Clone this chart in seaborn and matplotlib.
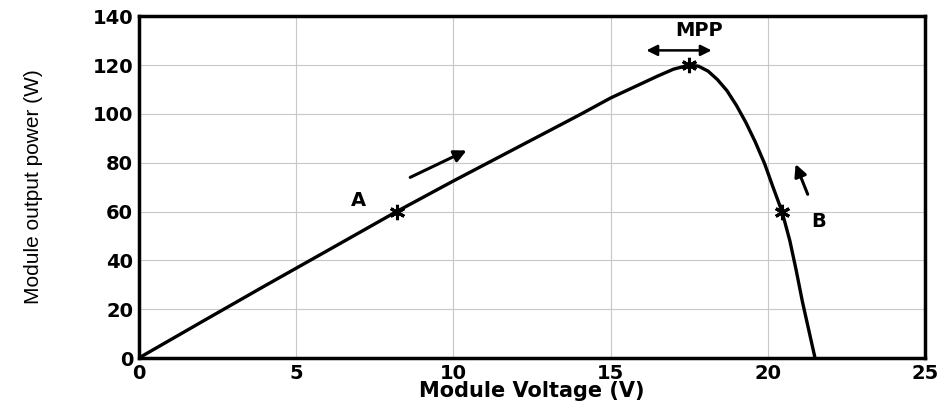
import matplotlib
matplotlib.use("Agg")
import matplotlib.pyplot as plt
import seaborn as sns
import pandas as pd

# P-V characteristic of the PV module
voltage = [0, 2, 4, 6, 8.2, 10, 12, 14, 15, 16, 16.5, 17, 17.5, 17.8, 18.1, 18.4, 18.7,
           19.0, 19.3, 19.6, 19.9, 20.15, 20.45, 20.7, 20.9, 21.1, 21.3, 21.5]
power = [0, 14.8, 29.5, 44, 60, 72.5, 86, 99.5, 106.5, 112.5, 115.5, 118.3, 120, 119.5, 117.5, 114, 109.5,
         103.5, 96.5, 88.5, 79.5, 70.5, 60, 48, 36, 23, 11.5, 0]

# operating points marked on the curve
point_names = ["A", "MPP", "B"]
point_v = [8.2, 17.5, 20.45]
point_p = [60, 120, 60]

x_ticks = [0, 5, 10, 15, 20, 25]
y_ticks = [0, 20, 40, 60, 80, 100, 120, 140]

sns.set_theme(style="whitegrid")
plt.rcParams["font.family"] = ["DejaVu Sans"]
plt.rcParams["text.color"] = "black"

fig = plt.figure(figsize=(9.44, 4.05), dpi=100)
ax = fig.add_axes([0.147, 0.116, 0.833, 0.844])

df = pd.DataFrame({"V": voltage, "P": power})
sns.lineplot(data=df, x="V", y="P", ax=ax, color="black", linewidth=2.4, sort=False)
ax.plot(point_v, point_p, linestyle="none", marker=(6, 2, 0), markersize=11,
        markeredgewidth=2.2, color="black")

ax.set_xlim(0, 25)
ax.set_ylim(0, 140)
ax.set_xticks(x_ticks)
ax.set_yticks(y_ticks)
ax.grid(True, color="#c8c8c8", linewidth=0.8)
ax.set_facecolor("white")
for s in ax.spines.values():
    s.set_color("black")
    s.set_linewidth(2.5)
ax.tick_params(direction="in", length=4, width=1, colors="black", pad=4)
for lab in ax.get_xticklabels() + ax.get_yticklabels():
    lab.set_fontsize(14)
    lab.set_fontweight("heavy")

ax.set_xlabel("Module Voltage (V)", fontsize=15, fontweight="heavy", color="black", labelpad=-1)
ax.set_ylabel("Module output power (W)", fontsize=15, color="black",
              family=["Liberation Sans", "DejaVu Sans"], labelpad=36)

# point labels
for name, tx, ty in zip(point_names, [7.0, 17.8, 21.6], [64.5, 134, 56]):
    ax.text(tx, ty, name, fontsize=14, fontweight="heavy", ha="center", va="center", color="black")

# direction arrows
arrow = dict(arrowstyle="-|>", color="black", lw=2.2, mutation_scale=18)
ax.annotate("", xy=(10.5, 85.5), xytext=(8.55, 73.5), arrowprops=arrow)
ax.annotate("", xy=(20.85, 80.5), xytext=(21.3, 66), arrowprops=arrow)
ax.annotate("", xy=(18.3, 126), xytext=(16.05, 126),
            arrowprops=dict(arrowstyle="<|-|>", color="black", lw=1.8, mutation_scale=16))

fig.savefig("out.png", dpi=100, facecolor="white")
